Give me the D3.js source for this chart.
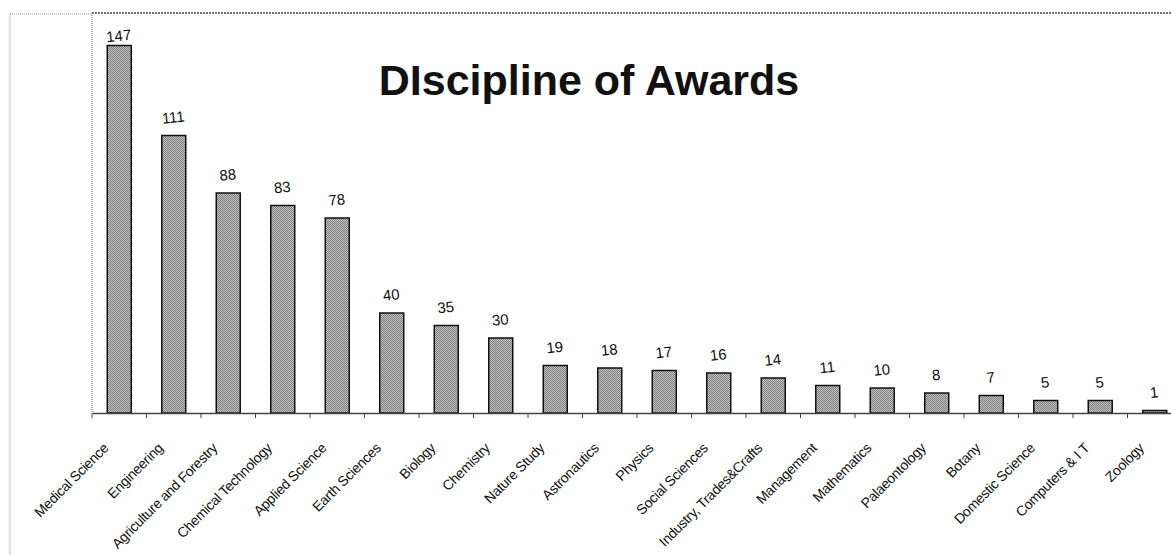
<!DOCTYPE html>
<html>
<head>
<meta charset="utf-8">
<script src="https://cdn.jsdelivr.net/npm/d3@7"></script>
<style>
  html, body { margin: 0; padding: 0; background: #fff; }
  svg { display: block; font-family: "Liberation Sans", Arial, sans-serif; }
</style>
</head>
<body>
<svg id="chart" width="1171" height="555"></svg>
<script>
const categories = ["Medical Science","Engineering","Agriculture and Forestry","Chemical Technology","Applied Science","Earth Sciences","Biology","Chemistry","Nature Study","Astronautics","Physics","Social Sciences","Industry, Trades&Crafts","Management","Mathematics","Palaeontology","Botany","Domestic Science","Computers & I T","Zoology"];
const values = [147,111,88,83,78,40,35,30,19,18,17,16,14,11,10,8,7,5,5,1];
const yDomain = [0, 160];
const title = "DIscipline of Awards";

const svg = d3.select("#chart");
const pLeft = 92, pRight = 1182, pTop = 13, pBottom = 413;

const defs = svg.append("defs");
const pat = defs.append("pattern").attr("id","hatch").attr("patternUnits","userSpaceOnUse")
  .attr("width",2).attr("height",2);
pat.append("rect").attr("width",2).attr("height",2).attr("fill","#c0c0c0");
pat.append("rect").attr("width",1).attr("height",1).attr("fill","#808080");
pat.append("rect").attr("x",1).attr("y",1).attr("width",1).attr("height",1).attr("fill","#808080");

const x = d3.scaleBand().domain(categories).range([pLeft, pRight]).paddingInner(0.56).paddingOuter(0.28);
const y = d3.scaleLinear().domain(yDomain).range([pBottom, pTop]);

// outer frame
svg.append("line").attr("x1",10).attr("x2",10).attr("y1",14).attr("y2",555)
  .attr("stroke","#999").attr("stroke-width",1).attr("stroke-dasharray","1,1");
svg.append("line").attr("x1",10).attr("x2",pLeft).attr("y1",14).attr("y2",14)
  .attr("stroke","#999").attr("stroke-width",1).attr("stroke-dasharray","1,1");
// plot area borders
svg.append("line").attr("x1",pLeft).attr("x2",1171).attr("y1",pTop).attr("y2",pTop)
  .attr("stroke","#444").attr("stroke-width",1.3).attr("stroke-dasharray","2,1");
svg.append("line").attr("x1",pLeft).attr("x2",pLeft).attr("y1",pTop).attr("y2",pBottom)
  .attr("stroke","#666").attr("stroke-width",1).attr("stroke-dasharray","1,1");

// title
svg.append("text").attr("x",589).attr("y",95).attr("text-anchor","middle")
  .attr("font-size",43).attr("font-weight","bold").attr("fill","#111").text(title);

// bars
svg.append("g").selectAll("rect").data(values).join("rect")
  .attr("x",(d,i)=>x(categories[i]))
  .attr("y",d=>y(d))
  .attr("width",x.bandwidth())
  .attr("height",d=>y(0)-y(d))
  .attr("fill","url(#hatch)")
  .attr("stroke","#111").attr("stroke-width",1.5);

// x axis
const step = x.step();
const axis = d3.axisBottom(x).tickSize(0).tickFormat("");
const gx = svg.append("g").attr("transform",`translate(0,${pBottom})`).call(axis);
gx.select(".domain").attr("stroke","#444").attr("stroke-width",1.3);
gx.selectAll(".boundary").data(d3.range(categories.length+1)).join("line")
  .attr("class","boundary")
  .attr("x1",i=>pLeft + i*step).attr("x2",i=>pLeft + i*step)
  .attr("y1",0).attr("y2",5).attr("stroke","#444").attr("stroke-width",1);

// category labels
svg.append("g").selectAll("text").data(categories).join("text")
  .attr("transform",d=>`translate(${x(d)+x.bandwidth()/2-10},${pBottom+36}) rotate(-45)`)
  .attr("text-anchor","end")
  .attr("font-size",14).attr("letter-spacing",-0.3).attr("fill","#111")
  .text(d=>d);

// value labels
svg.append("g").selectAll("text").data(values).join("text")
  .attr("transform",(d,i)=>{
    const cx = x(categories[i]) + x.bandwidth()/2;
    const cy = Math.max(y(d) - 13, pTop + 28);
    return `translate(${cx},${cy}) rotate(-6)`;
  })
  .attr("text-anchor","middle")
  .attr("font-size",15).attr("fill","#111")
  .text(d=>d);
</script>
</body>
</html>
